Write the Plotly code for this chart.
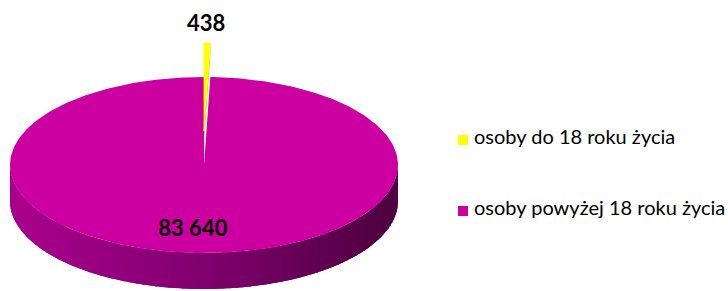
import math
import plotly.graph_objects as go

# ---- data ----
categories = ["osoby do 18 roku życia", "osoby powyżej 18 roku życia"]
values = [438, 83640]
labels = ["438", "83 640"]
colors = ["#FFFF00", "#CC00A0"]

# ---- geometry (style) ----
W, H = 728, 291
cx, cy = 204, 165      # centre of top face
a, b = 194, 88         # ellipse radii
depth = 36             # thickness of pie
explode = 34           # offset for the small slice

total = sum(values)
fracs = [v / total for v in values]


def pt(theta, dx=0.0, dy=0.0, down=0.0):
    # theta: clockwise angle from 12 o'clock, radians
    return cx + dx + a * math.sin(theta), cy + dy - b * math.cos(theta) + down


def lerp_col(c1, c2, t):
    r = [int(round(c1[i] + (c2[i] - c1[i]) * t)) for i in range(3)]
    return "rgb(%d,%d,%d)" % tuple(r)


fig = go.Figure()

# slice angles
starts, ends = [], []
acc = 0.0
for f in fracs:
    starts.append(acc * 2 * math.pi)
    acc += f
    ends.append(acc * 2 * math.pi)

# --- big slice: side wall (front half) with gradient ---
side_left = (170, 0, 142)
side_mid = (128, 0, 110)
side_right = (76, 0, 62)
t0, t1 = math.pi / 2, 3 * math.pi / 2

# base wall
xs, ys = [], []
for s in range(201):
    x, y = pt(t0 + (t1 - t0) * s / 200)
    xs.append(x); ys.append(y)
for s in range(200, -1, -1):
    x, y = pt(t0 + (t1 - t0) * s / 200, down=depth)
    xs.append(x); ys.append(y)
fig.add_trace(go.Scatter(x=xs, y=ys, fill="toself", fillcolor=lerp_col(side_left, side_right, 0.5),
                         mode="lines", line=dict(width=0), hoverinfo="skip", showlegend=False))

nb = 90
for k in range(nb):
    th1 = t0 + (t1 - t0) * k / nb
    th2 = t0 + (t1 - t0) * (k + 1.3) / nb
    th2 = min(th2, t1)
    xs, ys = [], []
    steps = 4
    for s in range(steps + 1):
        th = th1 + (th2 - th1) * s / steps
        x, y = pt(th)
        xs.append(x); ys.append(y)
    for s in range(steps, -1, -1):
        th = th1 + (th2 - th1) * s / steps
        x, y = pt(th, down=depth)
        xs.append(x); ys.append(y)
    xm = (pt((th1 + th2) / 2)[0] - (cx - a)) / (2 * a)  # 0 left .. 1 right
    if xm < 0.5:
        col = lerp_col(side_left, side_mid, xm / 0.5)
    else:
        col = lerp_col(side_mid, side_right, (xm - 0.5) / 0.5)
    fig.add_trace(go.Scatter(x=xs, y=ys, fill="toself", fillcolor=col, mode="lines",
                             line=dict(width=0), hoverinfo="skip", showlegend=False))

# --- big slice top face ---
xs, ys = [cx], [cy]
n = 400
for s in range(n + 1):
    th = starts[1] + (ends[1] - starts[1]) * s / n
    x, y = pt(th)
    xs.append(x); ys.append(y)
xs.append(cx); ys.append(cy)
fig.add_trace(go.Scatter(x=xs, y=ys, fill="toself", fillcolor=colors[1], mode="lines",
                         line=dict(width=0, color=colors[1]), hoverinfo="skip", showlegend=False))

# --- small slice (exploded upward) ---
mid = (starts[0] + ends[0]) / 2
dx = 0.0
dy = -explode * math.cos(mid)
x0, y0 = cx + dx, cy + dy
x1, y1 = pt(ends[0], dx, dy)
fig.add_trace(go.Scatter(x=[x0, x1, x1, x0, x0],
                         y=[y0, y1, y1 + depth * 0.3, y0 + depth * 0.3, y0],
                         fill="toself", fillcolor="#B8B800", mode="lines",
                         line=dict(width=0), hoverinfo="skip", showlegend=False))
xs, ys = [cx + dx], [cy + dy]
for s in range(21):
    th = starts[0] + (ends[0] - starts[0]) * s / 20
    x, y = pt(th, dx, dy)
    xs.append(x); ys.append(y)
xs.append(cx + dx); ys.append(cy + dy)
fig.add_trace(go.Scatter(x=xs, y=ys, fill="toself", fillcolor=colors[0], mode="lines",
                         line=dict(width=0.8, color=colors[0]), hoverinfo="skip", showlegend=False))

# --- data labels ---
lx0, ly0 = pt(mid, dx, dy)
fig.add_trace(go.Scatter(x=[lx0 - 1], y=[ly0 - 18], mode="text", text=[labels[0]],
                         texttemplate="<b>%{text}</b>",
                         textfont=dict(family="Lato", size=22, color="#000000"),
                         textposition="middle center", hoverinfo="skip", showlegend=False))
mid2 = (starts[1] + ends[1]) / 2
lx1, ly1 = pt(mid2)
fig.add_trace(go.Scatter(x=[lx1 - 8], y=[ly1 - 22], mode="text", text=[labels[1]],
                         texttemplate="<b>%{text}</b>",
                         textfont=dict(family="Lato", size=22, color="#000000"),
                         textposition="middle center", hoverinfo="skip", showlegend=False))

# --- legend (drawn as markers + text) ---
leg_x = 463
leg_y = [140, 211]
fig.add_trace(go.Scatter(x=[leg_x] * 2, y=leg_y, mode="markers",
                         marker=dict(symbol="square", size=10, color=colors),
                         hoverinfo="skip", showlegend=False))
fig.add_trace(go.Scatter(x=[leg_x + 11] * 2, y=[v - 1 for v in leg_y], mode="text", text=categories,
                         textposition="middle right",
                         textfont=dict(family="Lato", size=20, color="#000000"),
                         hoverinfo="skip", showlegend=False))

fig.update_layout(
    width=W, height=H,
    margin=dict(l=0, r=0, t=0, b=0),
    paper_bgcolor="white", plot_bgcolor="white",
    xaxis=dict(range=[0, W], visible=False, fixedrange=True),
    yaxis=dict(range=[H, 0], visible=False, fixedrange=True),
    showlegend=False,
)

fig.write_html("out.html", config={"displayModeBar": False},
               post_script="document.body.style.margin='0';document.body.style.overflow='hidden';")
